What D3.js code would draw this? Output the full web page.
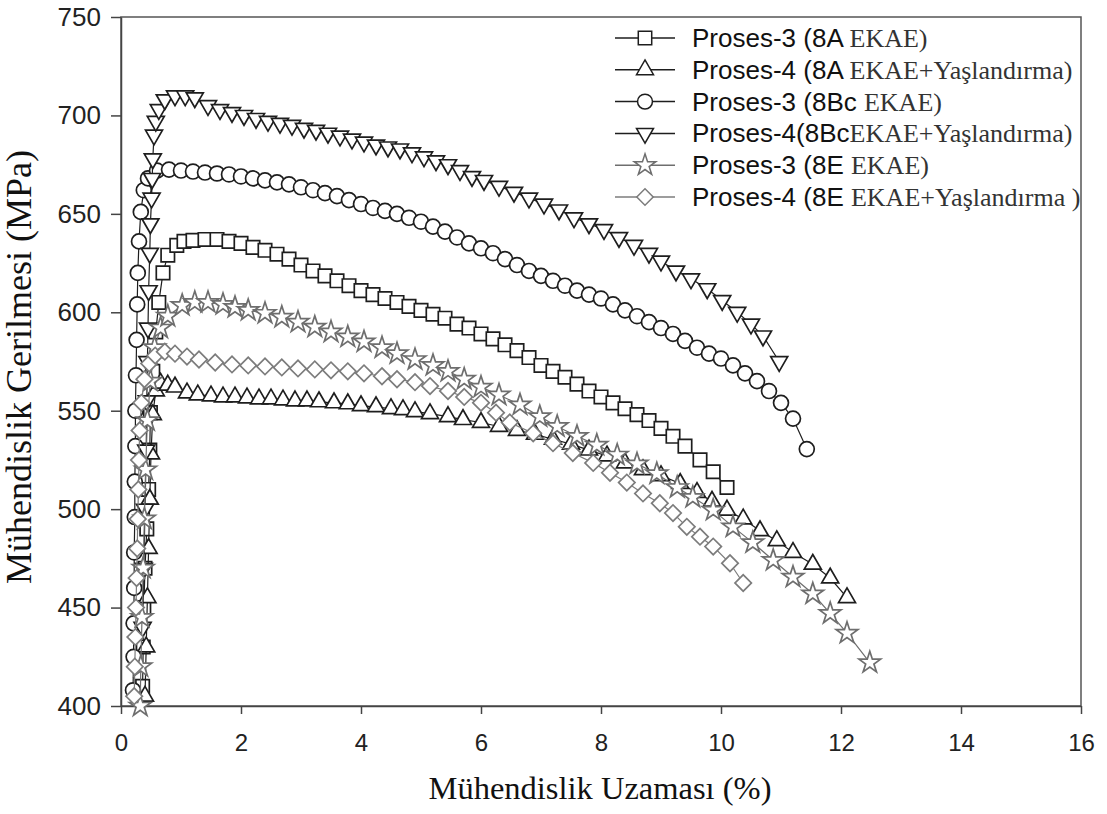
<!DOCTYPE html>
<html>
<head>
<meta charset="utf-8">
<script src="https://cdn.jsdelivr.net/npm/d3@7"></script>
<style>
  body { margin: 0; background: #fff; }
  .tick text { font-family: "Liberation Sans", Arial, sans-serif; font-size: 24px; fill: #222; }
  .y-axis .tick text { font-size: 26px; }
  .axis-title { font-family: "Liberation Serif", "Times New Roman", serif; fill: #111; }
  .legend text { font-size: 26px; }
</style>
</head>
<body>
<div id="chart"></div>
<script>
// strain (%), stress (MPa)
const p3_8A = [[0.36,410],[0.37,430],[0.38,450],[0.40,470],[0.43,490],[0.46,510],[0.48,530],[0.49,549],[0.53,570],[0.58,590],[0.63,605],[0.70,620],[0.78,629],[0.93,634],[1.05,636],[1.2,636.5],[1.4,637],[1.6,637],[1.8,636],[2.0,635],[2.2,633],[2.4,631.5],[2.6,629.5],[2.8,627],[3.0,624],[3.2,621],[3.4,618.5],[3.6,616],[3.8,613.5],[4.0,611],[4.2,609],[4.4,607],[4.6,605],[4.8,603],[5.0,601],[5.2,599],[5.4,597],[5.6,594],[5.8,592],[6.0,589],[6.2,586.5],[6.4,583.5],[6.6,580.5],[6.8,577],[7.0,573],[7.2,570],[7.4,567],[7.6,563.5],[7.8,560],[8.0,557],[8.2,554],[8.4,551],[8.6,548],[8.8,545],[9.0,541],[9.2,537],[9.4,532],[9.65,525],[9.87,519],[10.1,511]];
const p4_8A = [[0.40,405],[0.42,430],[0.44,455],[0.46,480],[0.48,505],[0.50,528],[0.53,548],[0.58,560],[0.66,564],[0.78,563],[0.9,562],[1.1,559],[1.28,558],[1.5,557.5],[1.7,557],[1.9,557],[2.1,556.5],[2.3,556],[2.5,556],[2.7,555.5],[2.9,555],[3.1,555],[3.3,554.5],[3.55,554],[3.78,553.5],[4.0,552.5],[4.25,552],[4.5,551],[4.7,550.5],[4.9,549.5],[5.15,548.5],[5.45,547],[5.7,545.5],[6.0,544],[6.3,542],[6.6,540],[6.9,538],[7.2,535.5],[7.5,533],[7.8,530],[8.1,527],[8.4,523.5],[8.7,520],[9.0,517],[9.32,513],[9.6,508.5],[9.85,504],[10.1,499.5],[10.37,495],[10.65,489],[10.93,484],[11.2,478],[11.53,472],[11.82,465],[12.1,455]];
const p3_8Bc = [[0.20,408],[0.21,425],[0.21,442],[0.22,460],[0.22,478],[0.23,496],[0.23,514],[0.24,532],[0.24,550],[0.25,568],[0.26,586],[0.27,604],[0.28,620],[0.30,636],[0.33,651],[0.38,662],[0.45,668],[0.6,672],[0.8,672.5],[1.0,672],[1.2,671.5],[1.4,671],[1.6,670.5],[1.8,670],[2.0,669],[2.2,668],[2.4,667],[2.6,666],[2.8,665],[3.0,663.5],[3.2,662],[3.4,660.5],[3.6,659],[3.8,657],[4.0,655],[4.2,653],[4.4,651.5],[4.6,650],[4.8,648],[5.0,646],[5.2,643.5],[5.4,641],[5.6,638],[5.8,635],[6.0,632.5],[6.2,630],[6.4,627],[6.6,624],[6.8,621],[7.0,618.5],[7.2,616],[7.4,613.5],[7.6,611],[7.8,609],[8.0,607],[8.2,604],[8.4,601],[8.6,598],[8.8,595],[9.0,592],[9.2,589],[9.4,585.5],[9.6,582],[9.8,579],[10.0,576.5],[10.2,573],[10.4,569],[10.6,565],[10.8,560],[11.0,554],[11.2,546],[11.43,530.5]];
const p4_8Bc = [[0.36,440],[0.38,470],[0.40,500],[0.42,530],[0.43,555],[0.44,575],[0.45,592],[0.46,611],[0.48,630],[0.49,645],[0.51,658],[0.52,668],[0.53,678],[0.55,690],[0.58,697],[0.63,703],[0.73,708],[0.9,710],[1.07,710],[1.23,709],[1.45,705],[1.65,703],[1.85,701.5],[2.05,700],[2.25,698.5],[2.45,697],[2.65,696],[2.85,695],[3.05,693.5],[3.25,692.5],[3.45,691],[3.65,689.5],[3.85,688],[4.05,686.5],[4.25,685],[4.45,684],[4.65,683],[4.85,681],[5.05,679],[5.25,677],[5.45,675],[5.65,672],[5.85,669],[6.05,667],[6.3,664],[6.55,661],[6.8,658],[7.05,655],[7.3,652],[7.55,648],[7.8,645],[8.05,642],[8.3,638],[8.55,634],[8.8,630],[9.0,626],[9.25,621],[9.5,617],[9.77,612],[10.02,606],[10.27,600],[10.5,594],[10.7,588],[10.97,575]];
const p3_8E = [[0.32,400],[0.33,420],[0.35,445],[0.37,470],[0.39,495],[0.41,520],[0.44,545],[0.49,565],[0.56,582],[0.66,592],[0.78,598],[1.02,603.5],[1.23,605],[1.45,605],[1.7,604],[1.9,602.5],[2.12,601],[2.4,599.5],[2.68,597.5],[2.95,595],[3.23,592.5],[3.5,590],[3.78,587.5],[4.05,585],[4.35,582],[4.6,579],[4.9,576],[5.2,573],[5.45,570],[5.72,566],[6.0,562],[6.3,558],[6.65,553],[6.98,547],[7.27,542],[7.6,537],[7.93,532.5],[8.27,527.5],[8.6,523],[8.93,518],[9.27,511],[9.53,506],[9.87,499.5],[10.2,491],[10.53,483],[10.87,474],[11.2,465.5],[11.53,457],[11.82,447],[12.1,437],[12.48,422]];
const p4_8E = [[0.22,405],[0.23,420],[0.24,435],[0.25,450],[0.26,465],[0.27,480],[0.28,495],[0.29,510],[0.30,525],[0.31,540],[0.34,554],[0.39,566],[0.47,574],[0.57,578],[0.73,580],[0.9,579],[1.1,577.5],[1.3,576],[1.57,574.5],[1.85,573.5],[2.12,573],[2.4,572.5],[2.68,572],[2.95,571.5],[3.23,571],[3.5,570.5],[3.78,570],[4.05,569],[4.35,567.5],[4.6,566],[4.9,564.5],[5.15,562.5],[5.45,560],[5.72,557],[6.0,554],[6.25,549],[6.48,544],[6.87,538.5],[7.2,533.5],[7.53,528.5],[7.87,523.5],[8.15,518.5],[8.43,513.5],[8.7,508],[8.98,503],[9.2,498],[9.43,491],[9.65,486],[9.87,481],[10.15,472.5],[10.37,462.5]];

const xTicks = [0, 2, 4, 6, 8, 10, 12, 14, 16];
const yTicks = [400, 450, 500, 550, 600, 650, 700, 750];
const legendSans = ["Proses-3 (8A ", "Proses-4 (8A ", "Proses-3 (8Bc ", "Proses-4(8Bc", "Proses-3 (8E ", "Proses-4 (8E "];
const legendSerif = ["EKAE)", "EKAE+Yaşlandırma)", "EKAE)", "EKAE+Yaşlandırma)", "EKAE)", "EKAE+Yaşlandırma )"];

const series = [
  { data: p3_8A, shape: "square", color: "#1e1e1e" },
  { data: p4_8A, shape: "up", color: "#1e1e1e" },
  { data: p3_8Bc, shape: "circle", color: "#1e1e1e" },
  { data: p4_8Bc, shape: "down", color: "#1e1e1e" },
  { data: p3_8E, shape: "star", color: "#6e6e6e" },
  { data: p4_8E, shape: "diamond", color: "#7c7c7c" }
];

const margin = { top: 17, right: 26, bottom: 108, left: 121 };
const W = 1107, H = 814;
const width = W - margin.left - margin.right;
const height = H - margin.top - margin.bottom;

const svg = d3.select("#chart").append("svg")
    .attr("width", W)
    .attr("height", H)
  .append("g")
    .attr("transform", `translate(${margin.left}, ${margin.top})`);

const x = d3.scaleLinear().domain([0, 16]).range([0, width]);
const y = d3.scaleLinear().domain([400, 750]).range([height, 0]);

// frame
svg.append("rect")
  .attr("width", width).attr("height", height)
  .attr("fill", "none").attr("stroke", "#555").attr("stroke-width", 1.5);

svg.append("g")
  .attr("transform", `translate(0, ${height})`)
  .call(d3.axisBottom(x).tickValues(xTicks).tickSize(8).tickPadding(20).tickSizeOuter(0));

svg.append("g")
  .attr("class", "y-axis")
  .call(d3.axisLeft(y).tickValues(yTicks).tickSize(10).tickPadding(10).tickSizeOuter(0));

svg.selectAll(".domain").attr("stroke", "#444").attr("stroke-width", 1.5);
svg.selectAll(".tick line").attr("stroke", "#444").attr("stroke-width", 1.5);
svg.selectAll(".tick text").attr("font-size", null).attr("font-family", null);

svg.append("text")
  .attr("class", "axis-title")
  .attr("font-size", 32.5)
  .attr("x", width / 2 - 1)
  .attr("y", height + 93)
  .attr("text-anchor", "middle")
  .text("Mühendislik Uzaması (%)");

svg.append("text")
  .attr("class", "axis-title")
  .attr("font-size", 36)
  .attr("transform", `translate(${-90}, ${350}) rotate(-90)`)
  .attr("text-anchor", "middle")
  .text("Mühendislik Gerilmesi (MPa)");

function symbolPath(shape) {
  if (shape === "square") return d3.symbol(d3.symbolSquare, 180)();
  if (shape === "circle") return d3.symbol(d3.symbolCircle, 175)();
  if (shape === "up" || shape === "down") return d3.symbol(d3.symbolTriangle, 125)();
  if (shape === "star") return d3.symbol(d3.symbolStar, 145)();
  return d3.symbol(d3.symbolSquare, 135)();
}
function symbolRot(shape) {
  if (shape === "down") return " rotate(180)";
  if (shape === "diamond") return " rotate(45)";
  return "";
}

const line = d3.line().x(d => x(d[0])).y(d => y(d[1]));

const plot = svg.append("g");

series.forEach(s => {
  const g = plot.append("g");
  g.append("path")
    .datum(s.data)
    .attr("d", line)
    .attr("fill", "none")
    .attr("stroke", s.color)
    .attr("stroke-width", 1.2);
  g.selectAll("path.mark")
    .data(s.data)
    .enter().append("path")
      .attr("class", "mark")
      .attr("d", symbolPath(s.shape))
      .attr("transform", d => `translate(${x(d[0])}, ${y(d[1])})` + symbolRot(s.shape))
      .attr("fill", "#fff")
      .attr("stroke", s.color)
      .attr("stroke-width", 1.7);
});

// legend
const legend = svg.selectAll(".legend")
  .data(series)
  .enter().append("g")
    .attr("class", "legend")
    .attr("transform", (d, i) => `translate(${494}, ${21 + i * 31.8})`);

legend.append("line")
  .attr("x1", 0).attr("x2", 60)
  .attr("stroke", d => d.color).attr("stroke-width", 1.5);

legend.append("path")
  .attr("d", d => symbolPath(d.shape))
  .attr("transform", d => "translate(30, 0)" + symbolRot(d.shape))
  .attr("fill", "#fff")
  .attr("stroke", d => d.color)
  .attr("stroke-width", 1.5);

const lt = legend.append("text")
  .attr("x", 77)
  .attr("y", 9);

lt.append("tspan")
  .attr("font-family", "'Liberation Sans', Arial, sans-serif")
  .attr("fill", "#111")
  .text((d, i) => legendSans[i]);

lt.append("tspan")
  .attr("font-family", "'Liberation Serif', 'Times New Roman', serif")
  .attr("fill", "#333")
  .text((d, i) => legendSerif[i]);
</script>
</body>
</html>
